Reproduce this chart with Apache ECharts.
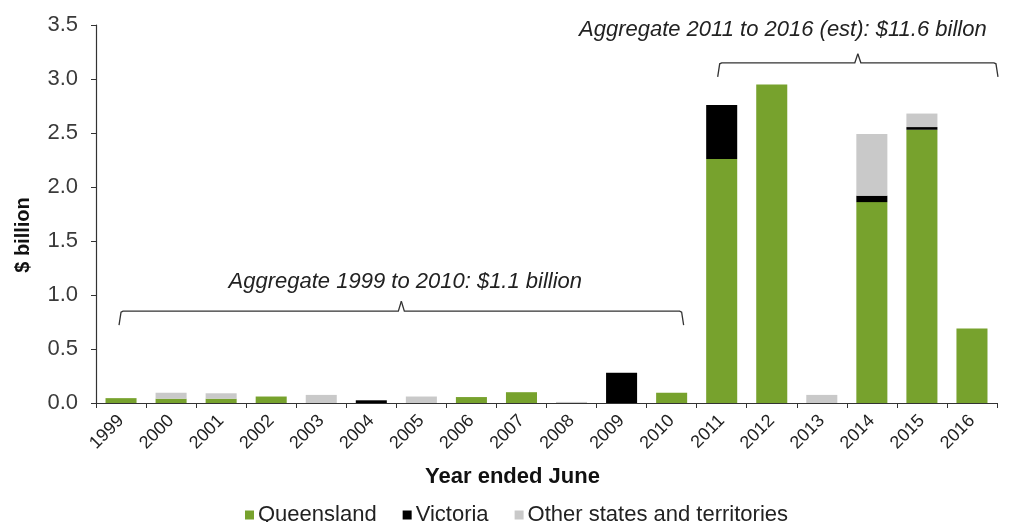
<!DOCTYPE html>
<html>
<head>
<meta charset="utf-8">
<script src="https://cdn.jsdelivr.net/npm/echarts@6/dist/echarts.min.js"></script>
<style>
html,body{margin:0;padding:0;background:#fff;}
#chart{width:1016px;height:522px;}
</style>
</head>
<body>
<div id="chart"></div>
<script>
const years = ['1999','2000','2001','2002','2003','2004','2005','2006','2007','2008','2009','2010','2011','2012','2013','2014','2015','2016'];
const queensland = [0.045,0.04,0.04,0.06,0,0,0,0.055,0.10,0,0,0.095,2.26,2.95,0,1.86,2.53,0.69];
const victoria   = [0,0,0,0,0,0.025,0,0,0,0,0.28,0,0.50,0,0,0.06,0.025,0];
const others     = [0,0.055,0.05,0,0.075,0,0.06,0,0,0.01,0,0,0,0,0.075,0.57,0.125,0];
const note1 = 'Aggregate 1999 to 2010: $1.1 billion';
const note2 = 'Aggregate 2011 to 2016 (est): $11.6 billon';

const FONT = '"Liberation Sans", Arial, sans-serif';
const chart = echarts.init(document.getElementById('chart'), null, {renderer:'canvas'});
const barW = '62%';
chart.setOption({
  animation:false,
  textStyle:{fontFamily:FONT},
  grid:{left:96, right:19, top:25, bottom:119, containLabel:false},
  legend:{
    left:240, top:499, itemWidth:9, itemHeight:9, itemGap:26,
    icon:'rect',
    textStyle:{fontFamily:FONT, fontSize:22, color:'#222', padding:[0,0,0,-1]},
    data:['Queensland','Victoria','Other states and territories']
  },
  xAxis:{
    type:'category', data:years,
    name:'Year ended June', nameLocation:'middle', nameGap:63,
    nameTextStyle:{fontFamily:FONT, fontSize:22, fontWeight:'bold', color:'#111', padding:[0,68,0,0]},
    axisLine:{lineStyle:{color:'#333', width:1.2}},
    axisTick:{show:true, alignWithLabel:false, length:5, lineStyle:{color:'#333'}},
    axisLabel:{rotate:45, fontSize:18, color:'#222', margin:15, interval:0},
    splitLine:{show:false}
  },
  yAxis:{
    type:'value', min:0, max:3.5, interval:0.5,
    name:'$ billion', nameLocation:'middle', nameGap:63, nameRotate:90,
    nameTextStyle:{fontFamily:FONT, fontSize:20, fontWeight:'bold', color:'#111', padding:[0,42,0,0]},
    axisLine:{show:true, lineStyle:{color:'#333', width:1.2}},
    axisTick:{show:true, inside:false, length:5, lineStyle:{color:'#333'}},
    axisLabel:{fontSize:22, color:'#3a3a3a', margin:18, formatter:v=>v.toFixed(1)},
    splitLine:{show:false}
  },
  series:[
    {name:'Queensland', type:'bar', stack:'s', data:queensland, barWidth:barW, itemStyle:{color:'#77a22d'}},
    {name:'Victoria', type:'bar', stack:'s', data:victoria, barWidth:barW, itemStyle:{color:'#000000'}},
    {name:'Other states and territories', type:'bar', stack:'s', data:others, barWidth:barW, itemStyle:{color:'#c9c9c9'}}
  ]
});

function px(cat, val){ return chart.convertToPixel({gridIndex:0}, [cat, val]); }
function bracket(x1, x2, yv, drop, rise, label, labelGap, labelShift){
  const a = px(0, yv)[1];
  const mid = (x1 + x2)/2;
  return [
    {type:'polyline', shape:{points:[[x1,a+drop],[x1+2,a+1],[x1+4,a],[mid-3,a],[mid,a-rise]]}, style:{stroke:'#333', lineWidth:1.3, fill:null}},
    {type:'polyline', shape:{points:[[mid,a-rise],[mid+3,a],[x2-4,a],[x2-2,a+1],[x2,a+drop]]}, style:{stroke:'#333', lineWidth:1.3, fill:null}},
    {type:'text', style:{x:mid + labelShift, y:a-labelGap, text:label, fill:'#222', font:'italic 22px "Liberation Sans", Arial, sans-serif', align:'center', verticalAlign:'middle'}}
  ];
}
const b1x1 = px(0,0)[0] - 2, b1x2 = px(11,0)[0] + 12;
const b2x1 = px(12,0)[0] - 4, b2x2 = px(17,0)[0] + 26;
chart.setOption({
  graphic: bracket(b1x1, b1x2, 0.85, 14, 10, note1, 29, 4).concat(bracket(b2x1, b2x2, 3.15, 14, 9, note2, 33, -75))
});
</script>
</body>
</html>
